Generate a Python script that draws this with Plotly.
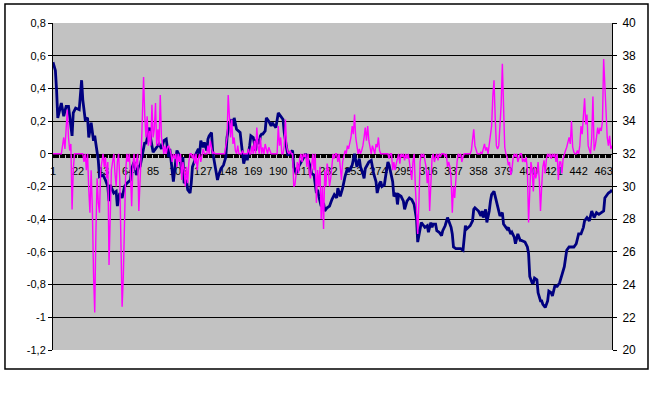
import plotly.graph_objects as go

N_CATS = 470
categories = list(range(1, N_CATS + 1))
x_tick_labels = [1, 22, 43, 64, 85, 106, 127, 148, 169, 190, 211, 232, 253, 274,
                 295, 316, 337, 358, 379, 400, 421, 442, 463]
left_ticks = [-1.2, -1.0, -0.8, -0.6, -0.4, -0.2, 0.0, 0.2, 0.4, 0.6, 0.8]
left_tick_text = ["-1,2", "-1", "-0,8", "-0,6", "-0,4", "-0,2", "0", "0,2", "0,4", "0,6", "0,8"]
right_ticks = [20, 22, 24, 26, 28, 30, 32, 34, 36, 38, 40]

# navy series (right axis): category, value
navy_x = [1, 3, 4, 5, 8, 10, 12, 14, 15, 17, 18, 20, 23, 25, 26, 28, 30, 31, 33, 35, 36, 38, 39, 40,
          43, 45, 47, 48, 49, 52, 54, 55, 57, 59, 61, 63, 66, 67, 69, 71, 73, 74, 76, 78, 79,
          82, 83, 85, 88, 90, 92, 94, 96, 97, 98, 99, 101, 102, 104, 105, 107, 109, 110, 111, 113,
          114, 116, 117, 118, 120, 121, 123, 124, 125, 127, 128, 130, 131, 132, 134, 135, 137, 139,
          140, 142, 144, 146, 147, 149, 151, 152, 153, 155, 158, 160, 161, 163, 164, 166, 167, 169,
          171, 172, 174, 175, 176, 177, 179, 180, 182, 184, 185, 187, 188, 190, 191, 192, 194, 195,
          197, 198, 199, 201, 202, 203, 205, 207, 209, 211, 213, 215, 217, 218, 220, 222, 223, 224,
          226, 228, 229, 231, 233, 235, 237, 239, 240, 242, 243, 244, 246, 247, 248, 249, 251, 252,
          254, 255, 256, 258, 259, 261, 262, 263, 265, 266, 268, 269, 270, 272, 273, 275, 276, 277,
          279, 280, 282, 283, 284, 286, 287, 289, 290, 291, 293, 295, 296, 298, 300, 302, 304, 306,
          307, 309, 310, 313, 315, 316, 318, 319, 320, 322, 323, 325, 327, 328, 330, 332, 333, 335,
          336, 337, 339, 341, 343, 345, 346, 347, 348, 350, 351, 353, 354, 355, 357, 358, 360, 361,
          362, 364, 365, 367, 368, 369, 371, 372, 374, 375, 376, 378, 379, 381, 382, 383, 385, 386,
          388, 389, 390, 391, 393, 394, 397, 399, 400, 401, 403, 404, 405, 407, 408, 410, 411, 412,
          414, 416, 417, 419, 420, 422, 424, 426, 428, 430, 432, 434, 436, 438, 440, 442, 444, 446,
          447, 449, 451, 453, 455, 457, 459, 461, 463, 464, 466, 467, 469, 470]
navy_y = [37.6, 37.1, 35.9, 34.2, 35.1, 34.3, 34.9, 34.9, 34.3, 33.1, 34.5, 34.8, 34.7, 36.5, 35.3,
          34.1, 34.2, 33.0, 33.9, 32.8, 33.1, 32.2, 31.6, 30.6,
          30.7, 30.4, 30.0, 29.1, 30.1, 29.6, 29.7, 28.8, 29.6, 29.3, 30.0, 30.2, 30.4, 31.1, 31.5,
          30.7, 31.3, 31.2, 31.9, 32.7, 32.6,
          33.6, 32.9, 32.1, 32.4, 32.6, 32.3, 32.8, 32.9, 32.2, 31.8, 32.3, 30.9, 30.3, 31.6, 32.2,
          31.9, 31.0, 31.8, 30.2, 30.4,
          29.8, 29.6, 30.2, 31.2, 31.6, 32.0, 32.3, 32.0, 32.8, 32.4, 32.7, 32.2, 32.9, 33.1, 33.3,
          32.1, 31.2, 30.4,
          30.7, 31.1, 31.3, 31.8, 33.0, 33.9, 34.1, 33.7, 34.2, 33.5, 33.3, 32.2, 31.4, 32.0, 31.6,
          32.5, 33.1, 33.0,
          32.2, 32.9, 32.6, 33.1, 33.2, 33.2, 33.4, 34.2, 34.0, 33.7, 33.9, 33.7, 33.6, 34.5, 34.4,
          34.3, 34.1, 33.3,
          32.2, 31.9, 32.0, 32.1, 32.2, 31.2, 30.8, 31.2, 31.5, 31.8, 32.0, 31.6, 31.2, 30.8, 30.7,
          29.6, 29.8, 29.4,
          28.8, 29.0, 28.5, 28.7, 28.8, 29.2, 29.5, 29.3, 29.9, 29.4, 29.6, 29.9, 30.6, 30.8, 31.1,
          30.9, 31.2, 31.3,
          32.0, 31.6, 31.2, 31.7, 31.2, 30.8, 30.5, 31.1, 31.4, 31.5, 31.6, 31.2, 30.8, 30.3, 29.6,
          30.2, 30.3, 30.0,
          30.1, 30.6, 31.5, 31.3, 30.9, 30.3, 29.4, 29.6, 28.9, 29.5, 29.4, 29.1, 28.6, 29.1, 29.3,
          29.2, 28.9, 28.0,
          26.6, 27.4, 27.8, 27.5, 27.6, 27.2, 27.8, 27.5, 27.7, 27.7, 27.3, 27.2, 27.0, 27.3, 27.6,
          28.1, 27.9, 27.5,
          27.1, 26.3, 26.2, 26.2, 26.2, 26.1, 26.8, 27.6, 27.4, 27.5, 27.6, 27.9, 28.6, 28.7, 28.6,
          28.5, 28.2, 28.5,
          28.1, 28.6, 27.8, 28.5, 29.1, 29.5, 29.7, 29.4, 28.9, 28.6, 28.2, 28.4, 27.7, 27.5, 27.4,
          27.5, 27.1, 27.2,
          26.9, 26.5, 26.9, 27.1, 26.7, 26.7, 26.6, 26.3, 25.9, 24.5, 24.1, 24.1, 24.4, 24.3, 23.5,
          23.0, 23.0, 22.8,
          22.6, 23.0, 23.6, 23.5, 23.3, 23.9, 23.9, 24.1, 24.6, 25.1, 26.1, 26.3, 26.3, 26.3, 26.5,
          27.1, 27.1, 27.5,
          27.9, 28.1, 27.9, 28.5, 28.1, 28.4, 28.3, 28.4, 28.5, 29.3, 29.5, 29.6, 29.7, 29.8]

# magenta series (left axis): categories where it leaves the zero baseline, and its values there
magenta_cats = [9, 10, 11, 12, 13, 14, 15, 16, 17, 18,
                27, 29, 31, 32, 33, 34, 35, 36, 37, 38, 39, 40, 41, 42, 44, 45, 46, 47, 48, 49, 50,
                51, 53, 54, 55, 57, 58, 59, 60, 61, 62, 64, 66, 67, 68, 70, 71, 73, 74,
                76, 77, 78, 79, 80, 81, 82, 83, 84, 85, 86, 87, 88, 89, 90, 91, 92, 93, 95, 97, 98, 99,
                101, 103, 105, 107, 109, 110, 111, 112, 113, 114, 115, 118, 120, 122, 123, 125, 127,
                131, 133, 134, 136, 146, 147, 148, 149, 150, 151, 152, 153, 154, 156, 160, 165, 168,
                170, 172, 173, 175, 177, 179, 180, 182, 183, 190, 191, 192, 195, 196, 197, 198, 200,
                203, 204, 205, 206, 207, 208, 210, 212, 214, 216, 217, 218, 220, 222, 223, 224, 225,
                226, 227, 228, 229, 230, 231, 232, 233, 234, 235, 237, 240, 242, 243, 244, 246, 248,
                249, 250, 251, 252, 253, 254, 255, 256, 258, 260, 261, 262, 263, 264, 265, 266, 267,
                269, 270, 272, 273, 274, 275,
                283, 286, 287, 288, 289, 290, 292, 294, 296, 298, 300, 301, 302, 303, 305, 306, 307,
                308, 309, 311, 313, 314, 315, 316, 317, 318, 319, 321, 322, 324, 326, 330, 332, 333,
                334, 335, 336, 337, 338, 339, 340, 342, 344, 345,
                352, 353, 354, 355, 356, 360, 362, 363, 364, 365, 367, 368, 369, 370, 371, 372, 373,
                374, 375, 376, 377, 378, 379, 380, 382, 383, 384, 385, 386, 387, 389, 391, 392, 395,
                396, 397, 398, 399, 400, 401, 402, 403, 404, 405, 406, 407, 408, 409, 410, 411, 412,
                413, 414, 415, 417, 419, 421, 423, 425, 426, 427, 428, 429, 431, 432, 433, 434, 435,
                436, 437, 438, 441, 443, 444, 445, 446, 447, 448, 449, 450, 451, 453, 454, 455, 456,
                457, 458, 459, 460, 461, 462, 463, 464, 465, 466, 467, 468, 469, 470]
magenta_vals = [0.05, 0.1, 0.03, 0.13, 0.27, 0.1, 0.02, 0.06, -0.34, -0.1,
                -0.05, -0.1, -0.22, -0.36, -0.1, -0.33, -0.73, -0.97, -0.48, -0.15, -0.3, -0.36, -0.1,
                -0.05, -0.08, -0.02, -0.15, -0.05, -0.68, -0.3, -0.1,
                -0.05, -0.12, -0.2, -0.05, -0.15, -0.47, -0.935, -0.75, -0.37, -0.1, -0.05, -0.12,
                -0.32, -0.08, -0.1, -0.05, -0.35, -0.1,
                0.23, 0.47, 0.23, 0.1, 0.23, 0.05, 0.14, 0.05, 0.3, 0.1, 0.15, 0.31, 0.05, 0.15, 0.05,
                0.36, 0.1, 0.03, 0.05, 0.04, 0.05, 0.03,
                -0.05, -0.03, -0.08, -0.05, -0.16, -0.05, -0.1, -0.2, -0.08, -0.18, -0.05, -0.03,
                -0.06, -0.1, -0.03, -0.05, 0.03,
                0.05, 0.08, 0.04, 0.01, 0.05, 0.1, 0.36, 0.21, 0.1, 0.21, 0.06, 0.1, 0.02, 0.05, 0.02,
                0.03, 0.05,
                0.08, 0.16, 0.05, 0.1, 0.04, 0.06, 0.03, 0.04, 0.02, 0.17, 0.05, 0.1, 0.05, 0.21, 0.05,
                0.01, 0.02,
                -0.2, -0.19, -0.12, -0.05, -0.12, -0.03, -0.05, -0.02, -0.08, -0.12, -0.15, -0.05,
                -0.1, -0.3, -0.1, -0.2, -0.08,
                -0.4, -0.2, -0.46, -0.1, -0.2, -0.06, -0.1, -0.2, -0.15, -0.05, -0.03, -0.05, -0.1,
                -0.16, -0.05, 0.02, 0.05,
                0.03, 0.07, 0.1, 0.17, 0.12, 0.24, 0.1, 0.05, 0.03, 0.02, 0.05, 0.1, 0.16, 0.08, 0.17,
                0.08, 0.04,
                0.05, 0.03, 0.06, 0.04, 0.1, 0.02,
                -0.03, -0.1, -0.05, -0.1, -0.06, -0.03, -0.06, -0.02, -0.04, -0.03, -0.05, -0.1, -0.16,
                -0.05, -0.2, -0.32, -0.49,
                -0.3, -0.05, -0.02, -0.05, -0.08, -0.18, -0.1, -0.35, -0.12, -0.03, -0.05, -0.02,
                -0.04, -0.02, -0.02, -0.08, -0.05,
                -0.08, -0.15, -0.36, -0.2, -0.27, -0.12, -0.05, -0.02, -0.05, -0.02,
                0.02, 0.07, 0.15, 0.05, 0.02, 0.01, 0.03, 0.06, 0.02, 0.04, 0.05, 0.1, 0.17, 0.35, 0.45,
                0.22, 0.05,
                0.03, 0.05, 0.17, 0.3, 0.55, 0.3, 0.04, -0.02, -0.07, -0.05, -0.13, -0.1, -0.03, -0.02,
                -0.05, -0.02, -0.05,
                -0.03, -0.05, -0.02, -0.1, -0.42, -0.2, -0.05, -0.1, -0.23, -0.08, -0.15, -0.12, -0.05,
                -0.16, -0.35, -0.2, -0.08,
                -0.04, -0.12, -0.03, -0.02, -0.03, -0.02, -0.05, -0.16, -0.05, -0.05, -0.12, -0.03,
                0.02, 0.04, 0.07, 0.1, 0.06,
                0.2, 0.04, 0.01, 0.02, 0.05, 0.17, 0.12, 0.23, 0.34, 0.18, 0.24, 0.05, 0.02, 0.1, 0.35,
                0.02, 0.05,
                0.1, 0.16, 0.12, 0.16, 0.14, 0.2, 0.58, 0.39, 0.3, 0.1, 0.05, 0.11, 0.03, 0.05]

magenta = [0.0] * N_CATS
for c, v in zip(magenta_cats, magenta_vals):
    magenta[c - 1] = v

FONT = "Liberation Sans, Arial, sans-serif"

fig = go.Figure()
fig.add_trace(go.Scatter(x=navy_x, y=navy_y, mode="lines", yaxis="y",
                         line=dict(color="#000080", width=2.8), showlegend=False))
fig.add_trace(go.Scatter(x=categories, y=magenta, mode="lines", yaxis="y2",
                         line=dict(color="#ff00ff", width=1.4), showlegend=False))
# invisible helper trace for the grid axis
fig.add_trace(go.Scatter(x=[1], y=[0], mode="markers", yaxis="y3",
                         marker=dict(opacity=0), showlegend=False, hoverinfo="skip"))

fig.update_layout(
    width=655, height=400,
    margin=dict(l=53, r=43, t=23, b=50),
    paper_bgcolor="white",
    plot_bgcolor="#c2c2c2",
    font=dict(family=FONT, size=11, color="black"),
    xaxis=dict(range=[1, N_CATS], tickvals=x_tick_labels, ticktext=[str(v) for v in x_tick_labels],
               anchor="free", position=0.6, showgrid=False, zeroline=False,
               showline=True, linecolor="black", linewidth=1,
               ticks="outside", ticklen=3, tickcolor="black", tickwidth=1,
               ticklabelstandoff=4,
               minor=dict(dtick=1, tick0=1, ticks="outside", ticklen=3, tickcolor="black", tickwidth=1),
               layer="below traces", tickfont=dict(size=11, family=FONT)),
    yaxis=dict(range=[20, 40], side="right", tickvals=right_ticks,
               ticktext=[str(v) for v in right_ticks],
               showgrid=False, zeroline=False, showline=True, linecolor="black", linewidth=1,
               ticks="outside", ticklen=4, tickcolor="black", ticklabelstandoff=3,
               tickfont=dict(size=12, family=FONT)),
    yaxis2=dict(range=[-1.2, 0.8], side="left", overlaying="y", tickvals=left_ticks,
                ticktext=left_tick_text, showgrid=False, zeroline=False, showline=True,
                linecolor="black", linewidth=1, ticks="outside", ticklen=4, tickcolor="black",
                tickfont=dict(size=11, family=FONT)),
    yaxis3=dict(range=[-1.2, 0.8], overlaying="y", side="left", showticklabels=False,
                tickvals=[-1.0, -0.8, -0.6, -0.4, -0.2, 0.2, 0.4, 0.6], ticks="",
                showgrid=True, gridcolor="black", gridwidth=1, zeroline=False, showline=False),
    shapes=[dict(type="rect", xref="paper", yref="paper",
                 x0=-0.0859, x1=1.0644, y0=-0.0581, y1=1.0581,
                 line=dict(color="black", width=1.5), fillcolor="rgba(0,0,0,0)", layer="below")],
)

fig.write_html("out.html", config={"displayModeBar": False},
               post_script="document.body.style.margin='0px';document.body.style.overflow='hidden';")
